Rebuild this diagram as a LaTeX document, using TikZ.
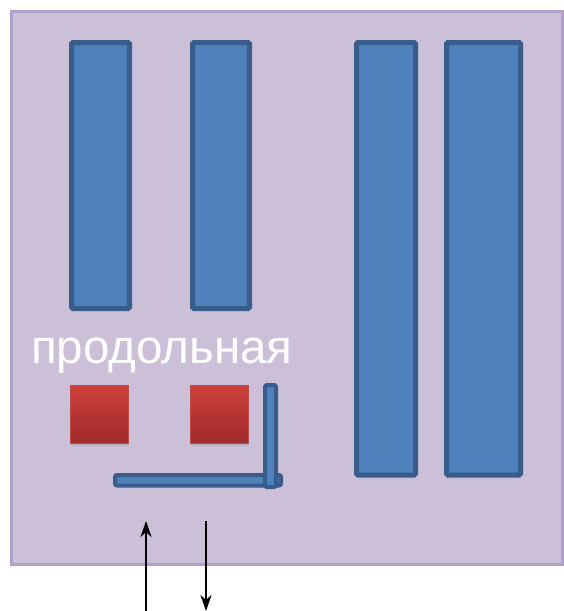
\documentclass[tikz,border=0pt]{standalone}
\usepackage{fontspec}
\newfontfamily\cyrfont{Liberation Sans}
\usepackage{xcolor}
\usetikzlibrary{arrows.meta, shadows}

\definecolor{roomfill}{RGB}{204,192,217}
\definecolor{roomline}{RGB}{178,161,199}
\definecolor{rackfill}{RGB}{79,129,189}
\definecolor{rackline}{RGB}{56,93,138}
\definecolor{boxtop}{RGB}{206,64,60}
\definecolor{boxbot}{RGB}{158,42,42}
\definecolor{boxline}{RGB}{185,77,74}

\begin{document}
\begin{tikzpicture}[x=1pt, y=-1pt]
        % 스타일 정의
        \tikzset{room/.style={fill=roomfill, draw=roomline, line width=3pt}}
        \tikzset{rack/.style={fill=rackfill, draw=rackline, line width=5pt, rounded corners=1.5pt}}
        \tikzset{redbox/.style={top color=boxtop, bottom color=boxbot, draw=boxline, line width=1pt,
            drop shadow={shadow xshift=0pt, shadow yshift=-2pt, opacity=0.25}}}
        \tikzset{rail/.style={fill=rackfill, draw=rackline, line width=4pt, rounded corners=2pt}}
        \tikzset{flow/.style={-{Stealth[length=16pt, width=11pt, inset=5pt]}, line width=2.6pt}}

        \useasboundingbox (0,0) rectangle (564,611);

        % 1. 바탕
        \draw[room] (11.5,11.5) rectangle (562,564);

        % 2. 세로 선반
        \draw[rack] (71.5,42.5) rectangle (129.5,308.5);
        \draw[rack] (192.5,42.5) rectangle (249.5,308.5);
        \draw[rack] (356.5,42.5) rectangle (415.5,475);
        \draw[rack] (446.5,42.5) rectangle (520.5,475);

        % 3. 글자
        \node[anchor=base west, inner sep=0pt, text=white, font=\cyrfont\fontsize{47.5}{50}\selectfont]
            (label) at (31,363) {продольная};

        % 4. 빨간 상자
        \draw[redbox] (70.5,385.5) rectangle (128.5,443.5);
        \draw[redbox] (190.5,385.5) rectangle (248.5,443.5);

        % 5. ㄱ자 레일
        \draw[rail] (115,475) rectangle (281,485.5);
        \draw[rail] (265,385) rectangle (276,487);

        % 6. 화살표
        \coordinate (inA) at (146,611);
        \coordinate (inB) at (146,521);
        \coordinate (outA) at (206,521);
        \coordinate (outB) at (206,611);
        \draw[flow] (inA) -- (inB);
        \draw[flow] (outA) -- (outB);
    \end{tikzpicture}
\end{document}
